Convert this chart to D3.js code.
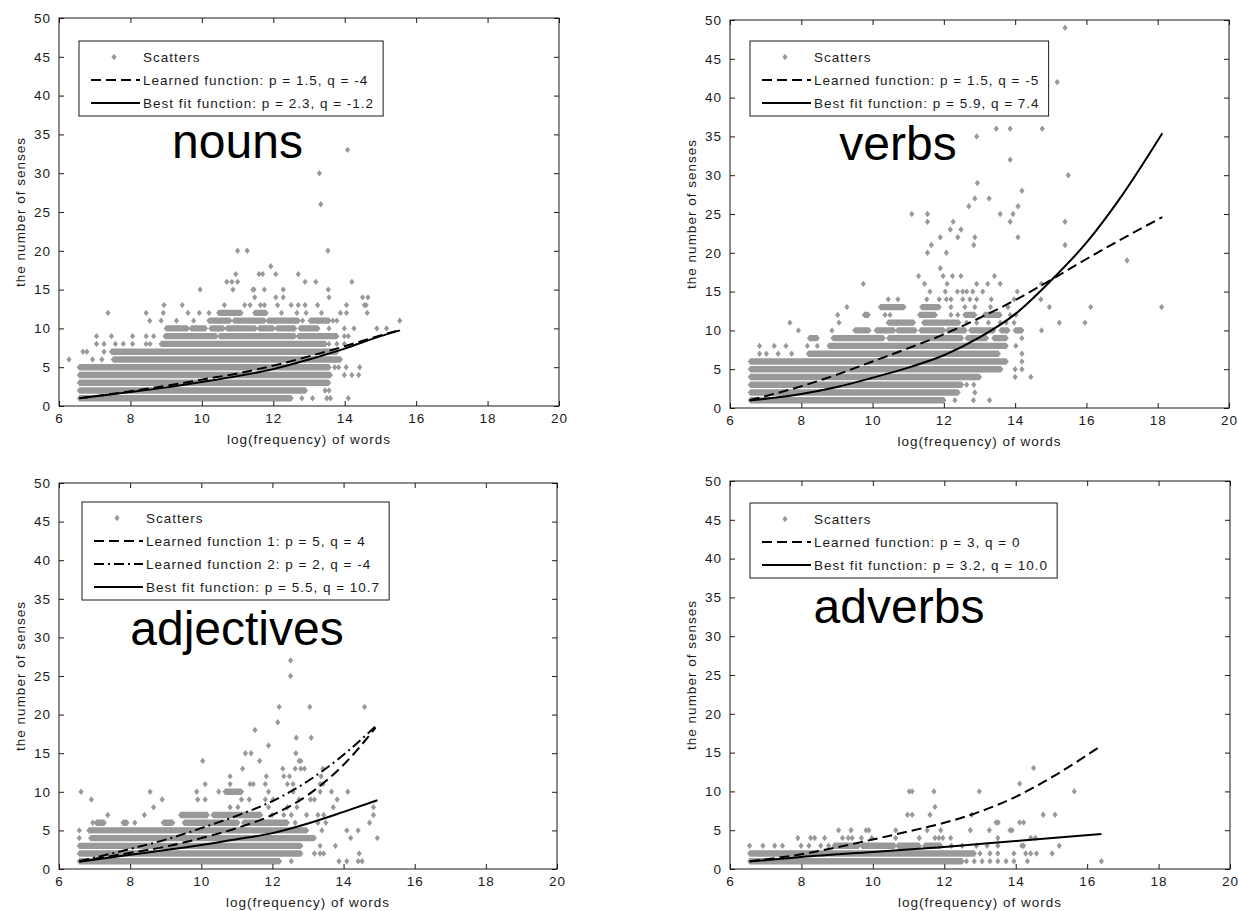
<!DOCTYPE html>
<html>
<head>
<meta charset="utf-8">
<script src="https://d3js.org/d3.v7.min.js"></script>
<style>
  body { margin: 0; background: #fff; }
  svg text { font-family: "Liberation Sans", Arial, sans-serif; }
  .small { font-size: 13.5px; letter-spacing: 1px; }
</style>
</head>
<body>
<svg id="chart" width="1238" height="911"></svg>
<script>
var xTicks = [6, 8, 10, 12, 14, 16, 18, 20];
var yTicks = [0, 5, 10, 15, 20, 25, 30, 35, 40, 45, 50];
var xLabel = "log(frequency) of words";
var yLabel = "the number of senses";
var titles = ["nouns", "verbs", "adjectives", "adverbs"];

/* dense rows of scatters: [senses, from, to] */
var nounRuns = [
  [1, 6.57, 12.5], [2, 6.57, 12.9], [3, 6.57, 13.55], [4, 6.57, 13.6], [5, 6.57, 13.56],
  [6, 7.52, 13.88], [7, 7.47, 13.78], [8, 8.86, 13.46],
  [9, 8.97, 10.4], [9, 10.5, 12.6], [9, 12.7, 13.78],
  [10, 9.0, 9.6], [10, 9.7, 10.1], [10, 10.25, 10.6], [10, 10.7, 11.5], [10, 11.6, 12.0], [10, 12.1, 12.6], [10, 12.75, 13.25],
  [11, 10.2, 10.79], [11, 10.9, 11.75], [11, 11.85, 12.7], [11, 13.03, 13.56],
  [12, 10.47, 11.1], [12, 11.48, 11.8]
];
/* single scatters: [senses, [log frequencies]] */
var nounPoints = [
  [1, [12.8, 13.1, 13.5, 13.6, 14.1]],
  [2, [13.45, 13.56]],
  [4, [13.99, 14.2, 14.39]],
  [5, [13.72, 13.83, 14.04, 14.42]],
  [6, [6.28, 6.94, 7.2]],
  [7, [6.67, 6.78, 7.26]],
  [8, [7.05, 7.26, 7.58, 7.8, 8.06, 8.44, 8.55, 13.56, 13.78, 13.99]],
  [9, [7.05, 7.47, 8.06, 8.44, 8.65, 13.99, 14.1]],
  [10, [13.56, 13.99, 14.26, 14.9, 15.17]],
  [11, [8.54, 8.86, 9.29, 9.77, 12.82, 13.67, 13.78, 15.54]],
  [12, [7.37, 8.44, 8.92, 9.61, 9.93, 10.2, 12.23, 12.66, 12.92, 13.35, 13.88, 14.05, 14.63]],
  [13, [8.94, 9.45, 10.63, 11.2, 11.35, 11.64, 11.75, 12.12, 12.5, 12.7, 12.89, 13.24, 14.05, 14.55, 14.6]],
  [14, [11.48, 12.07, 12.28, 13.56, 14.5, 14.65]],
  [15, [9.95, 10.87, 11.43, 11.46, 11.75, 12.28, 13.54]],
  [16, [10.7, 10.84, 11.0, 12.89, 13.19, 14.2]],
  [17, [10.95, 11.6, 11.7, 12.07, 12.7]],
  [18, [11.93]],
  [20, [11.0, 11.27, 13.53]],
  [26, [13.33]], [30, [13.29]], [33, [14.08]]
];
var nounLearned = [[6.57, 1.0], [8, 1.9], [9, 2.6], [10, 3.4], [11, 4.2], [12, 5.2], [13, 6.4], [14, 7.7], [15, 9.1], [15.55, 9.8]];
var nounBest = [[6.57, 1.0], [8, 1.8], [9, 2.4], [10, 3.1], [11, 3.85], [12, 4.75], [13, 6.0], [14, 7.4], [15, 9.0], [15.55, 9.75]];
var nounLegend = ["Scatters", "Learned function: p = 1.5, q = -4", "Best fit function: p = 2.3, q = -1.2"];

var verbRuns = [
  [1, 6.57, 12.0], [2, 6.57, 12.4], [3, 6.57, 12.5], [4, 6.57, 13.0], [5, 6.57, 13.6], [6, 6.57, 13.75],
  [7, 8.2, 13.53], [8, 8.78, 13.75],
  [9, 8.23, 8.45], [9, 8.89, 10.3], [9, 10.45, 12.5], [9, 12.65, 13.2], [9, 13.4, 13.75],
  [10, 9.5, 9.9], [10, 10.1, 10.6], [10, 10.7, 11.2], [10, 11.35, 12.0], [10, 12.1, 12.6], [10, 12.75, 13.4], [10, 13.6, 13.8], [10, 14.0, 14.19],
  [11, 10.44, 11.15], [11, 11.43, 12.42],
  [12, 9.77, 9.88], [12, 11.32, 11.76], [12, 12.59, 12.87], [12, 13.14, 13.58],
  [13, 10.22, 10.88], [13, 11.38, 11.87]
];
var verbPoints = [
  [1, [12.31, 12.83, 13.28]],
  [2, [12.87]],
  [3, [12.64, 12.84]],
  [4, [14.0, 14.44]],
  [5, [14.0, 14.19]],
  [6, [14.19]],
  [7, [6.83, 7.02, 7.35, 7.73, 14.19]],
  [8, [6.83, 7.24, 7.57, 8.17, 8.45, 14.02]],
  [9, [14.19]],
  [10, [7.92, 8.86, 14.74]],
  [11, [7.68, 9.06, 12.64, 12.92, 13.25, 13.58, 13.75, 13.97, 15.24, 15.96]],
  [12, [9.02, 10.35, 10.49, 12.2, 12.39, 13.86, 14.02]],
  [13, [9.28, 12.2, 12.59, 12.87, 13.31, 13.8, 14.96, 16.12, 18.11]],
  [14, [10.44, 10.71, 11.52, 11.87, 12.07, 12.2, 12.53, 12.73, 12.92, 13.33, 13.97, 14.72]],
  [15, [11.61, 12.04, 12.38, 12.53, 12.64, 12.81, 13.09, 14.06]],
  [16, [9.74, 11.46, 12.09, 12.92, 13.23, 13.58, 14.74]],
  [17, [11.29, 11.98, 12.24, 12.48, 13.42]],
  [18, [11.9]], [19, [17.14]], [20, [11.54, 12.07]],
  [21, [11.65, 12.84, 15.4]],
  [22, [11.9, 12.39, 12.87, 14.08]],
  [23, [12.18, 12.48]],
  [24, [11.54, 12.26, 13.86, 15.4]],
  [25, [11.1, 11.54, 13.58, 13.94]],
  [26, [12.7, 14.08]], [27, [12.87, 13.27]], [28, [14.19]], [29, [12.94]], [30, [15.49]],
  [32, [13.86]], [35, [12.92]], [36, [13.47, 13.86, 14.76]], [42, [15.18]], [49, [15.4]]
];
var verbLearned = [[6.55, 1.0], [8, 2.8], [9, 4.3], [10, 6.0], [11, 7.7], [12, 9.5], [13, 11.6], [14, 13.9], [15, 16.5], [16, 19.2], [17, 21.8], [18.13, 24.6]];
var verbBest = [[6.55, 0.95], [8, 1.8], [9, 2.7], [10, 3.9], [11, 5.2], [12, 6.8], [13, 9.1], [14, 12.1], [15, 16.4], [16, 21.3], [17, 27.4], [18.13, 35.4]];
var verbLegend = ["Scatters", "Learned function: p = 1.5, q = -5", "Best fit function: p = 5.9, q = 7.4"];

var adjRuns = [
  [1, 6.57, 12.2], [2, 6.57, 12.8], [3, 6.57, 12.8], [4, 6.89, 13.18], [5, 6.84, 12.96],
  [6, 7.05, 7.27], [6, 7.8, 7.91], [6, 8.93, 9.2], [6, 9.52, 11.03], [6, 11.19, 12.42],
  [7, 9.42, 10.17], [7, 10.33, 11.67],
  [10, 10.67, 11.13]
];
var adjPoints = [
  [1, [12.53, 13.87, 14.09, 14.41, 14.52]],
  [2, [13.18, 13.34, 13.44, 14.44]],
  [3, [13.34, 13.77]],
  [4, [6.57, 14.2, 14.95]],
  [5, [6.57, 13.39, 14.09, 14.41]],
  [6, [6.95, 8.13, 12.64, 13.28, 13.5, 14.73]],
  [7, [7.37, 8.4, 11.99, 12.32, 12.53, 12.96, 13.28, 13.44, 14.84]],
  [8, [8.66, 10.81, 11.03, 11.89, 12.42, 12.69, 13.71, 14.84]],
  [9, [6.91, 8.9, 9.9, 10.11, 11.13, 11.35, 11.8, 12.02, 12.75, 13.07, 13.18, 13.82]],
  [10, [6.62, 8.56, 9.87, 10.49, 11.89, 12.58, 13.34, 13.66, 14.12]],
  [11, [10.11, 10.81, 11.37, 11.46, 11.8, 12.42, 12.58, 13.34, 13.42]],
  [12, [10.81, 11.83, 12.32, 12.48, 13.37]],
  [13, [11.16, 12.29, 12.64, 12.8, 12.9, 13.42]],
  [14, [10.04, 11.64, 12.75, 12.8]],
  [15, [11.24, 11.4, 12.66]],
  [16, [11.89]], [17, [12.67, 13.09]], [18, [11.51]], [19, [12.15]],
  [21, [12.19, 13.05, 14.59]], [25, [12.51]], [27, [12.51]]
];
var adjLearned1 = [[6.57, 1.0], [8, 2.1], [9, 2.9], [10, 4.0], [11, 5.3], [12, 7.0], [13, 9.6], [14, 13.5], [14.9, 18.3]];
var adjLearned2 = [[6.57, 1.0], [8, 2.6], [9, 3.8], [10, 5.3], [11, 6.9], [12, 8.8], [13, 11.4], [14, 14.8], [14.9, 18.5]];
var adjBest = [[6.57, 0.95], [8, 1.85], [9, 2.45], [10, 3.1], [11, 3.85], [12, 4.65], [13, 5.9], [14, 7.4], [14.95, 8.9]];
var adjLegend = ["Scatters", "Learned function 1: p = 5, q = 4", "Learned function 2: p = 2, q = -4", "Best fit function: p = 5.5, q = 10.7"];

var advRuns = [
  [1, 6.55, 12.5], [2, 6.55, 12.84],
  [3, 8.92, 9.6], [3, 9.7, 10.6], [3, 10.7, 11.3], [3, 11.45, 11.9]
];
var advPoints = [
  [1, [12.62, 12.84, 13.06, 13.28, 13.5, 13.73, 13.95, 14.33, 16.4]],
  [2, [13.0, 13.28, 13.5, 13.95, 14.28, 14.42, 14.58, 15.02]],
  [3, [6.55, 6.92, 7.25, 7.47, 7.99, 8.21, 8.54, 8.76, 12.2, 12.5, 12.9, 13.2, 13.5, 14.17, 14.22, 15.22]],
  [4, [7.9, 8.26, 8.37, 8.65, 9.15, 9.31, 9.42, 9.68, 9.97, 10.64, 11.3, 11.74, 11.85, 11.96, 12.18, 13.5, 14.42, 14.55]],
  [5, [9.04, 9.39, 9.81, 9.89, 10.64, 11.52, 11.9, 12.73, 13.26, 13.84, 13.9]],
  [6, [13.45, 13.51, 14.11, 14.22]],
  [7, [10.97, 11.1, 11.6, 12.77, 14.77, 15.1]],
  [8, [11.74]],
  [10, [11.02, 11.1, 11.71, 12.98, 15.64]],
  [11, [14.11]], [13, [14.5]]
];
var advLearned = [[6.55, 1.0], [8, 1.9], [9, 2.8], [10, 3.8], [11, 4.85], [12, 5.95], [13, 7.4], [14, 9.3], [15, 11.8], [16.4, 15.9]];
var advBest = [[6.55, 0.95], [8, 1.55], [10, 2.2], [12, 2.85], [14, 3.6], [16.4, 4.5]];
var advLegend = ["Scatters", "Learned function: p = 3, q = 0", "Best fit function: p = 3.2, q = 10.0"];

var GRAY = "#999999";
var INK = "#1a1a1a";
var DASH = "10,5";
var DASHDOT = "10,4,2,4";
var hw = 2.6, hh = 3.2;

var panels = [
  { title: titles[0], runs: nounRuns, points: nounPoints,
    lines: [{ d: nounLearned, dash: DASH }, { d: nounBest, dash: null }],
    legend: nounLegend, left: 59, top: 18, right: 559, bottom: 406, lgX: 79, lgY: 41, tx: 237.5, ty: 158 },
  { title: titles[1], runs: verbRuns, points: verbPoints,
    lines: [{ d: verbLearned, dash: DASH }, { d: verbBest, dash: null }],
    legend: verbLegend, left: 730, top: 20, right: 1229, bottom: 408, lgX: 750, lgY: 41, tx: 898, ty: 160 },
  { title: titles[2], runs: adjRuns, points: adjPoints,
    lines: [{ d: adjLearned1, dash: DASH }, { d: adjLearned2, dash: DASHDOT }, { d: adjBest, dash: null }],
    legend: adjLegend, left: 59, top: 483, right: 557, bottom: 869, lgX: 82, lgY: 502, tx: 237, ty: 645 },
  { title: titles[3], runs: advRuns, points: advPoints,
    lines: [{ d: advLearned, dash: DASH }, { d: advBest, dash: null }],
    legend: advLegend, left: 730, top: 481, right: 1230, bottom: 869, lgX: 750, lgY: 503, tx: 899, ty: 623 }
];

var svg = d3.select("#chart");

function diamond(cx, cy) {
  return "M" + cx + "," + (cy - hh) + "L" + (cx + hw) + "," + cy + "L" + cx + "," + (cy + hh) + "L" + (cx - hw) + "," + cy + "Z";
}

function drawPanel(p) {
  var x = d3.scaleLinear().domain([6, 20]).range([p.left, p.right]);
  var y = d3.scaleLinear().domain([0, 50]).range([p.bottom, p.top]);
  var g = svg.append("g");

  /* scatters: dense bands then single markers */
  g.append("g").selectAll("path")
    .data(p.runs).enter()
    .append("path")
    .attr("fill", GRAY)
    .attr("d", function(d) {
      var x0 = x(d[1]), x1 = x(d[2]), yc = y(d[0]);
      return "M" + (x0 - hw) + "," + yc + "L" + x0 + "," + (yc - hh) + "L" + x1 + "," + (yc - hh) +
        "L" + (x1 + hw) + "," + yc + "L" + x1 + "," + (yc + hh) + "L" + x0 + "," + (yc + hh) + "Z";
    });

  var pts = [];
  p.points.forEach(function(r) {
    r[1].forEach(function(v) { pts.push([v, r[0]]); });
  });
  g.append("g").selectAll("path")
    .data(pts).enter()
    .append("path")
    .attr("fill", GRAY)
    .attr("d", function(d) { return diamond(x(d[0]), y(d[1])); });

  /* fitted curves */
  var line = d3.line()
    .x(function(d) { return x(d[0]); })
    .y(function(d) { return y(d[1]); })
    .curve(d3.curveMonotoneX);

  p.lines.forEach(function(l) {
    g.append("path")
      .attr("d", line(l.d))
      .attr("fill", "none")
      .attr("stroke", "#000")
      .attr("stroke-width", 2)
      .attr("stroke-dasharray", l.dash);
  });

  /* axes, matlab style ticks pointing inwards */
  var ax = g.append("g").attr("color", INK);
  ax.append("g").attr("transform", "translate(0," + p.bottom + ")")
    .call(d3.axisBottom(x).tickValues(xTicks).tickSize(-5).tickSizeOuter(0).tickPadding(7.5));
  ax.append("g").attr("transform", "translate(0," + p.top + ")")
    .call(d3.axisTop(x).tickValues(xTicks).tickSize(-5).tickSizeOuter(0).tickFormat(""));
  ax.append("g").attr("transform", "translate(" + p.left + ",0)")
    .call(d3.axisLeft(y).tickValues(yTicks).tickSize(-5).tickSizeOuter(0).tickPadding(8));
  ax.append("g").attr("transform", "translate(" + p.right + ",0)")
    .call(d3.axisRight(y).tickValues(yTicks).tickSize(-5).tickSizeOuter(0).tickFormat(""));
  ax.selectAll(".domain").remove();
  ax.selectAll(".tick text")
    .style("font-size", "13.5px")
    .style("letter-spacing", "1px")
    .style("font-family", "'Liberation Sans', Arial, sans-serif");

  g.append("rect")
    .attr("x", p.left).attr("y", p.top)
    .attr("width", p.right - p.left).attr("height", p.bottom - p.top)
    .attr("fill", "none").attr("stroke", INK).attr("stroke-width", 1);

  g.append("text")
    .attr("class", "small")
    .attr("x", (p.left + p.right) / 2)
    .attr("y", p.bottom + 38)
    .attr("text-anchor", "middle")
    .attr("fill", INK)
    .text(xLabel);

  g.append("text")
    .attr("class", "small")
    .attr("transform", "translate(" + (p.left - 34) + "," + ((p.top + p.bottom) / 2) + ") rotate(-90)")
    .attr("text-anchor", "middle")
    .attr("fill", INK)
    .text(yLabel);

  /* legend */
  var lg = g.append("g");
  var box = lg.append("rect")
    .attr("x", p.lgX).attr("y", p.lgY)
    .attr("fill", "#fff").attr("stroke", INK).attr("stroke-width", 1);
  var maxW = 0;
  p.legend.forEach(function(label, i) {
    var ry = p.lgY + 16 + i * 23;
    if (i === 0) {
      lg.append("path").attr("fill", GRAY).attr("d", diamond(p.lgX + 35, ry));
    } else {
      var l = p.lines[i - 1];
      lg.append("line")
        .attr("x1", p.lgX + 12).attr("x2", p.lgX + 61)
        .attr("y1", ry).attr("y2", ry)
        .attr("stroke", "#000").attr("stroke-width", 2)
        .attr("stroke-dasharray", l.dash);
    }
    var t = lg.append("text")
      .attr("class", "small")
      .attr("x", p.lgX + 64)
      .attr("y", ry + 5)
      .attr("fill", INK)
      .text(label);
    maxW = Math.max(maxW, t.node().getBBox().width);
  });
  box.attr("width", 64 + maxW + 9)
    .attr("height", 16 + (p.legend.length - 1) * 23 + 13);

  /* big part-of-speech title */
  g.append("text")
    .attr("x", p.tx).attr("y", p.ty)
    .attr("text-anchor", "middle")
    .attr("font-size", "48px")
    .attr("fill", "#000")
    .text(p.title);
}

panels.forEach(drawPanel);
</script>
</body>
</html>
